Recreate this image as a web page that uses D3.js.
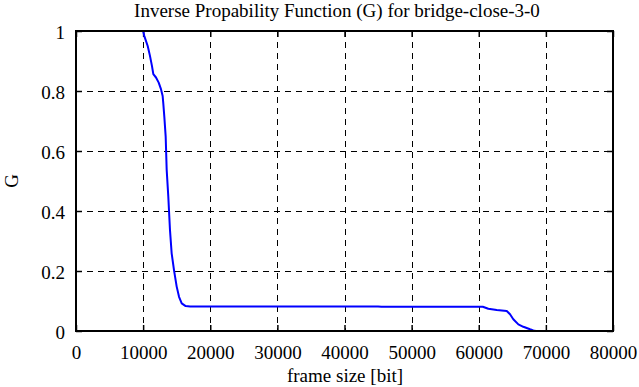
<!DOCTYPE html>
<html><head><meta charset="utf-8">
<script src="https://cdn.jsdelivr.net/npm/d3@7"></script>
<style>
html,body{margin:0;padding:0;background:#fff;}
svg{display:block;}
</style></head>
<body>
<svg id="chart" width="639" height="387"></svg>
<script>
const title = "Inverse Propability Function (G) for bridge-close-3-0";
const xLabel = "frame size [bit]";
const yLabel = "G";
const xTicks = [0,10000,20000,30000,40000,50000,60000,70000,80000];
const yTicks = [0,0.2,0.4,0.6,0.8,1];
const yTickLabels = ["0","0.2","0.4","0.6","0.8","1"];
const frameSize = [10000,10180,10680,11020,11320,11520,11920,12320,12660,12910,13010,13160,13360,13510,13750,14000,14250,14600,15000,15350,15750,16340,17000,45000,45500,60600,61430,62680,64170,64660,65150,65900,66640,67640,68130,68500,70000];
const G = [1,0.983,0.95,0.917,0.883,0.856,0.845,0.828,0.806,0.783,0.757,0.714,0.648,0.537,0.448,0.337,0.259,0.203,0.148,0.114,0.092,0.083,0.082,0.082,0.081,0.081,0.074,0.070,0.0667,0.0557,0.039,0.022,0.014,0.0057,0.002,0,0];

const svg = d3.select("#chart");
const m = {left:76, right:613, top:31, bottom:331};
const x = d3.scaleLinear().domain([0,80000]).range([m.left,m.right]);
const y = d3.scaleLinear().domain([0,1]).range([m.bottom,m.top]);
const fs = 19;
const FS = `font-family:'Liberation Serif','Times New Roman',serif;font-size:${fs}px;`;

const grid = svg.append("g").attr("stroke","#000").attr("stroke-width",1).attr("stroke-dasharray","6,5");
grid.selectAll(".gx").data(xTicks.slice(1,-1)).enter().append("line")
  .attr("x1",d=>Math.round(x(d))+0.5).attr("x2",d=>Math.round(x(d))+0.5)
  .attr("y1",m.top).attr("y2",m.bottom);
grid.selectAll(".gy").data(yTicks.slice(1,-1)).enter().append("line")
  .attr("y1",d=>Math.round(y(d))+0.5).attr("y2",d=>Math.round(y(d))+0.5)
  .attr("x1",m.left).attr("x2",m.right);

const tl = 6;
const bottomAxis = d3.axisBottom(x).tickValues(xTicks).tickSize(-tl).tickFormat(d3.format("d")).tickPadding(15);
const gb = svg.append("g").attr("transform",`translate(0,${m.bottom})`).call(bottomAxis);
const topAxis = d3.axisTop(x).tickValues(xTicks).tickSize(-tl).tickFormat("");
const gt = svg.append("g").attr("transform",`translate(0,${m.top})`).call(topAxis);
const leftAxis = d3.axisLeft(y).tickValues(yTicks).tickSize(-tl).tickFormat((d,i)=>yTickLabels[i]).tickPadding(11);
const gl = svg.append("g").attr("transform",`translate(${m.left},0)`).call(leftAxis);
const rightAxis = d3.axisRight(y).tickValues(yTicks).tickSize(-tl).tickFormat("");
const gr = svg.append("g").attr("transform",`translate(${m.right},0)`).call(rightAxis);
[gb,gt,gl,gr].forEach(g=>{
  g.select(".domain").remove();
  g.selectAll(".tick line").attr("stroke","#000").attr("stroke-width",1.5);
  g.selectAll("text").attr("style",FS).attr("fill","#000");
});
gl.selectAll("text").attr("dy","0.42em");

const pts = frameSize.map((d,i)=>[d,G[i]]);
svg.append("path").datum(pts)
  .attr("fill","none").attr("stroke","#0000ff").attr("stroke-width",2)
  .attr("stroke-linejoin","round")
  .attr("d",d3.line().x(d=>x(d[0])).y(d=>y(d[1])));

svg.append("rect").attr("x",m.left).attr("y",m.top)
  .attr("width",m.right-m.left).attr("height",m.bottom-m.top)
  .attr("fill","none").attr("stroke","#000").attr("stroke-width",2);

svg.append("text").attr("x",337).attr("y",17).attr("text-anchor","middle")
  .attr("style",FS).attr("fill","#000").text(title);
svg.append("text").attr("x",345).attr("y",382).attr("text-anchor","middle")
  .attr("style",FS).attr("fill","#000").text(xLabel);
svg.append("text").attr("transform",`translate(18,${(m.top+m.bottom)/2}) rotate(-90)`)
  .attr("text-anchor","middle").attr("style",FS).attr("fill","#000").text(yLabel);
</script>
</body></html>
